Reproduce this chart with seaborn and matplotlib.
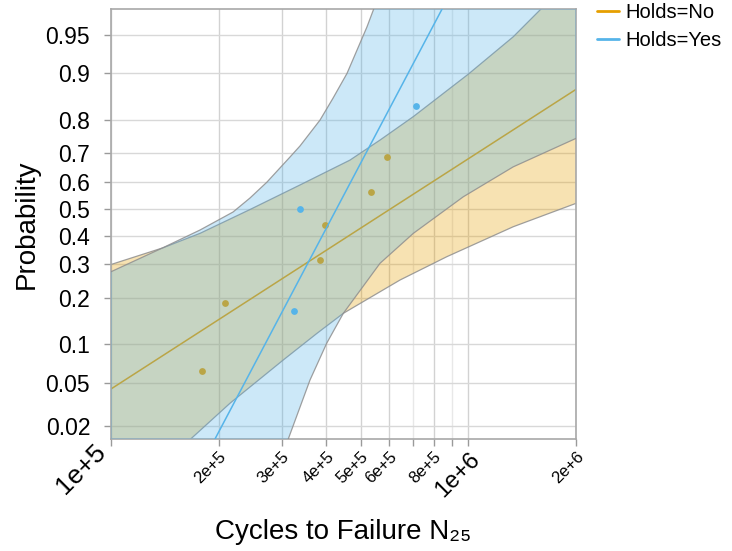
import statistics

import numpy as np
import matplotlib
matplotlib.use("Agg")
import matplotlib.pyplot as plt
import matplotlib.transforms as mtransforms
from matplotlib.lines import Line2D
from matplotlib.ticker import FixedLocator, NullLocator
import seaborn as sns

# ---- data ----
# failure points (median ranks)
cycles_no = [1.80e5, 2.09e5, 3.85e5, 3.98e5, 5.34e5, 5.91e5]
prob_no = [0.0625, 0.1875, 0.3125, 0.4375, 0.5625, 0.6875]
cycles_yes = [3.25e5, 3.37e5, 7.12e5]
prob_yes = [0.1667, 0.5, 0.8333]

# fitted lognormal lines (end points)
fit_no_cycles = [1.0e5, 2.0e6]
fit_no_prob = [0.0442, 0.8704]
fit_yes_cycles = [1.954e5, 8.44e5]
fit_yes_prob = [0.01475, 0.9705]

# confidence band edges
no_upper_cycles = [1.0e5, 1.398e5, 1.774e5, 2.448e5, 3.38e5, 4.66e5, 5.66e5,
                   7.01e5, 1.0e6, 1.335e6, 1.596e6]
no_upper_prob = [0.299, 0.356, 0.408, 0.497, 0.589, 0.677, 0.742,
                 0.808, 0.8985, 0.948, 0.9705]
no_lower_cycles = [1.671e5, 2.153e5, 3.034e5, 3.763e5, 4.467e5, 6.436e5,
                   8.697e5, 1.335e6, 2.0e6]
no_lower_prob = [0.01475, 0.0330, 0.0764, 0.1190, 0.1614, 0.2502,
                 0.3250, 0.4325, 0.5203]
yes_upper_cycles = [1.0e5, 1.398e5, 1.774e5, 2.195e5, 2.448e5, 2.732e5, 3.168e5,
                    3.379e5, 3.844e5, 4.18e5, 4.575e5, 5.204e5, 5.433e5]
yes_upper_prob = [0.2757, 0.3563, 0.4202, 0.4876, 0.5403, 0.5996, 0.6875,
                  0.7235, 0.799, 0.852, 0.8997, 0.9573, 0.9705]
yes_lower_cycles = [3.133e5, 3.604e5, 4.013e5, 4.467e5, 5.657e5, 7.013e5,
                    9.676e5, 1.335e6, 2.0e6]
yes_lower_prob = [0.01475, 0.0527, 0.1017, 0.1614, 0.3029, 0.408,
                  0.545, 0.654, 0.747]

prob_ticks = [0.02, 0.05, 0.1, 0.2, 0.3, 0.4, 0.5, 0.6, 0.7, 0.8, 0.9, 0.95]
prob_labels = ["0.02", "0.05", "0.1", "0.2", "0.3", "0.4", "0.5", "0.6",
               "0.7", "0.8", "0.9", "0.95"]
cycle_ticks = [1e5, 2e5, 3e5, 4e5, 5e5, 6e5, 8e5, 1e6, 2e6]
cycle_labels = ["1e+5", "2e+5", "3e+5", "4e+5", "5e+5", "6e+5", "8e+5", "1e+6", "2e+6"]
cycle_minor = [7e5, 9e5]
big_labels = ["1e+5", "1e+6"]

X_MIN, X_MAX = 1e5, 2e6
P_BOTTOM, P_TOP = 0.01475, 0.9705

ORANGE = "#e69f00"
BLUE = "#56b4e9"
EDGE = "#8f8f8f"

_nd = statistics.NormalDist()


def prob_to_z(p):
    p = np.asarray(p, dtype=float)
    out = np.full(p.shape, np.nan)
    ok = np.isfinite(p)
    q = np.clip(p[ok], 1e-12, 1 - 1e-12)
    out[ok] = [_nd.inv_cdf(v) for v in q.ravel()]
    return out


def z_to_prob(z):
    z = np.asarray(z, dtype=float)
    out = np.full(z.shape, np.nan)
    ok = np.isfinite(z)
    out[ok] = [_nd.cdf(v) for v in z[ok].ravel()]
    out[np.isposinf(z)] = 1.0
    out[np.isneginf(z)] = 0.0
    return out


def band_polygon(up_x, up_p, lo_x, lo_p):
    # upper edge left->right, then beyond the top right corner, lower edge back
    xs = list(up_x) + [X_MAX * 1.05] + list(lo_x)[::-1] + [X_MIN * 0.95]
    ps = list(up_p) + [0.995] + list(lo_p)[::-1] + [0.005]
    return xs, ps


def draw_group(ax, up, lo, pts, fit, color, z):
    xs, ps = band_polygon(up[0], up[1], lo[0], lo[1])
    ax.fill(xs, ps, color=color, alpha=0.3, lw=0, zorder=z)
    for ex, ep in (up, lo):
        sns.lineplot(x=ex, y=ep, sort=False, estimator=None, color=EDGE,
                     lw=0.9, alpha=0.85, ax=ax, zorder=z + 0.1)
    sns.scatterplot(x=pts[0], y=pts[1], color=color, s=24, linewidth=0,
                    ax=ax, zorder=z + 0.2)
    sns.lineplot(x=fit[0], y=fit[1], sort=False, estimator=None, color=color,
                 lw=1.1, ax=ax, zorder=z + 0.3)


def main():
    sns.set_style("white")
    plt.rcParams["font.family"] = ["Liberation Sans", "DejaVu Sans"]
    plt.rcParams["text.color"] = "black"
    plt.rcParams["axes.labelcolor"] = "black"

    fig = plt.figure(figsize=(7.32, 5.51), dpi=100)
    ax = fig.add_axes([111 / 732, 1 - 439 / 551, 465 / 732, 430 / 551])

    ax.set_xscale("log")
    ax.set_yscale("function", functions=(prob_to_z, z_to_prob))
    ax.set_xlim(X_MIN, X_MAX)
    ax.set_ylim(P_BOTTOM, P_TOP)

    draw_group(ax, (no_upper_cycles, no_upper_prob), (no_lower_cycles, no_lower_prob),
               (cycles_no, prob_no), (fit_no_cycles, fit_no_prob), ORANGE, 2)
    draw_group(ax, (yes_upper_cycles, yes_upper_prob), (yes_lower_cycles, yes_lower_prob),
               (cycles_yes, prob_yes), (fit_yes_cycles, fit_yes_prob), BLUE, 3)

    ax.set_xlim(X_MIN, X_MAX)
    ax.set_ylim(P_BOTTOM, P_TOP)

    # ticks
    ax.yaxis.set_major_locator(FixedLocator(prob_ticks))
    ax.yaxis.set_minor_locator(NullLocator())
    ax.set_yticklabels(prob_labels)
    ax.xaxis.set_major_locator(FixedLocator(cycle_ticks))
    ax.xaxis.set_minor_locator(FixedLocator(cycle_minor))
    ax.set_xticklabels(cycle_labels)
    ax.xaxis.set_minor_formatter(plt.NullFormatter())

    ax.tick_params(axis="y", which="both", left=True, length=5, width=1,
                   color="#9a9a9a", labelcolor="black", pad=10, labelsize=16.5)
    ax.tick_params(axis="x", which="both", bottom=True, length=5, width=1,
                   color="#9a9a9a", labelcolor="black", pad=2)
    for lbl in ax.get_xticklabels():
        lbl.set_rotation(45)
        lbl.set_ha("right")
        lbl.set_va("top")
        lbl.set_rotation_mode("anchor")
        lbl.set_fontsize(17 if lbl.get_text() in big_labels else 12)
        if lbl.get_text() == "1e+5":
            # the first label sits further left / higher in the reference
            lbl.set_fontsize(19)
            lbl.set_transform(lbl.get_transform() + mtransforms.ScaledTranslation(
                -18 / 100, 9 / 100, fig.dpi_scale_trans))

    ax.set_axisbelow(True)
    ax.grid(True, axis="y", color="#d8d8d8", lw=1)
    ax.grid(True, axis="x", which="major", color="#d2d2d2", lw=1)
    ax.grid(True, axis="x", which="minor", color="#e8e8e8", lw=1)
    for sp in ax.spines.values():
        sp.set_color("#a8a8a8")
        sp.set_linewidth(1.2)

    ax.set_ylabel("Probability", fontsize=20, labelpad=4)
    ax.set_xlabel("Cycles to Failure N\u2082\u2085", fontsize=20, labelpad=12)

    handles = [Line2D([], [], color=ORANGE, lw=2), Line2D([], [], color=BLUE, lw=2)]
    ax.legend(handles, ["Holds=No", "Holds=Yes"], loc="upper left",
              bbox_to_anchor=(597 / 732, 1 - 3 / 551), bbox_transform=fig.transFigure,
              frameon=False, fontsize=14.5, handlelength=1.1, handletextpad=0.3,
              labelspacing=0.45, borderpad=0, borderaxespad=0)

    fig.savefig("out.png", dpi=100)


if __name__ == "__main__":
    main()
